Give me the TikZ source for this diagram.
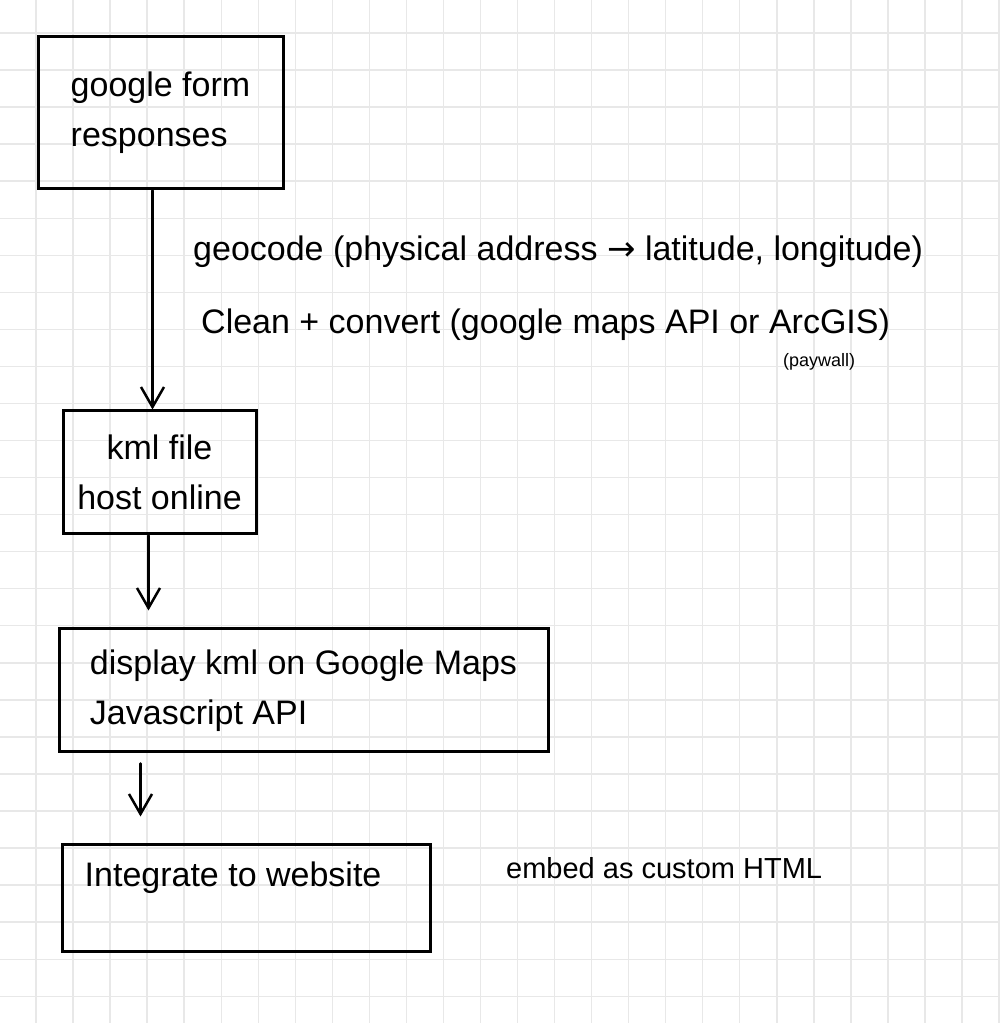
\documentclass[tikz,border=0pt]{standalone}
\usepackage{fontspec}
\setmainfont{Liberation Sans}
\newfontfamily\arrowfont{DejaVu Sans}
\usetikzlibrary{arrows.meta}

\begin{document}
\begin{tikzpicture}[x=1pt, y=1pt, >={Straight Barb[length=20pt, width=23pt]},
        hand/.style={font=\fontsize{34}{50}\selectfont, align=left, inner sep=0pt},
        box/.style={hand, draw, line width=3pt},
        flow/.style={->, line width=2.5pt, line cap=round, line join=round}]
    \useasboundingbox (0,0) rectangle (1000,1023);
    \fill[white] (0,0) rectangle (1000,1023);
    % Grid paper
    \begin{scope}
        \clip (0,0) rectangle (1000,1023);
        \foreach \i in {-1,...,26} {
                \draw[black!9, line width=1.4pt] ({36+37.04*\i},0) -- ({36+37.04*\i},1023);
                \draw[black!9, line width=1.4pt] (0,{990-37.05*\i}) -- (1000,{990-37.05*\i});
            }
    \end{scope}
    % Boxes
    \node[box, minimum width=245, minimum height=152] (form) at (160.5,910) {google form\\responses};
    \node[box, minimum width=193, minimum height=123, align=center] (kml) at (159.5,550.5) {kml file\\host online};
    \node[box, minimum width=489, minimum height=123] (maps) at (303.5,332.5) {display kml on Google Maps\\Javascript API};
    \node[box, minimum width=368, minimum height=107] (web) at (246,124.5) {};
    \node[hand, anchor=west] (webtext) at ([xshift=24pt, yshift=-34pt]web.north west) {Integrate to website};
    % Notes
    \node[hand, anchor=west] (geocode) at (193,771) {geocode (physical address {\arrowfont →} latitude, longitude)};
    \node[hand, anchor=west] (clean) at (201,698) {Clean + convert (google maps API or ArcGIS)};
    \node[hand, anchor=west, font=\fontsize{18}{22}\selectfont] (paywall) at (783,661) {(paywall)};
    \node[hand, anchor=west, font=\fontsize{29}{34}\selectfont] (embed) at (506,155) {embed as custom HTML};
    % Arrows
    \draw[flow] ([xshift=-8pt]form.south) -- ([xshift=-7pt]kml.north);
    \draw[flow] ([xshift=-11pt]kml.south) -- ++(0,-75);
    \draw[flow] ([xshift=83pt, yshift=-10pt]maps.south west) -- ++(0,-53);
\end{tikzpicture}
\end{document}
